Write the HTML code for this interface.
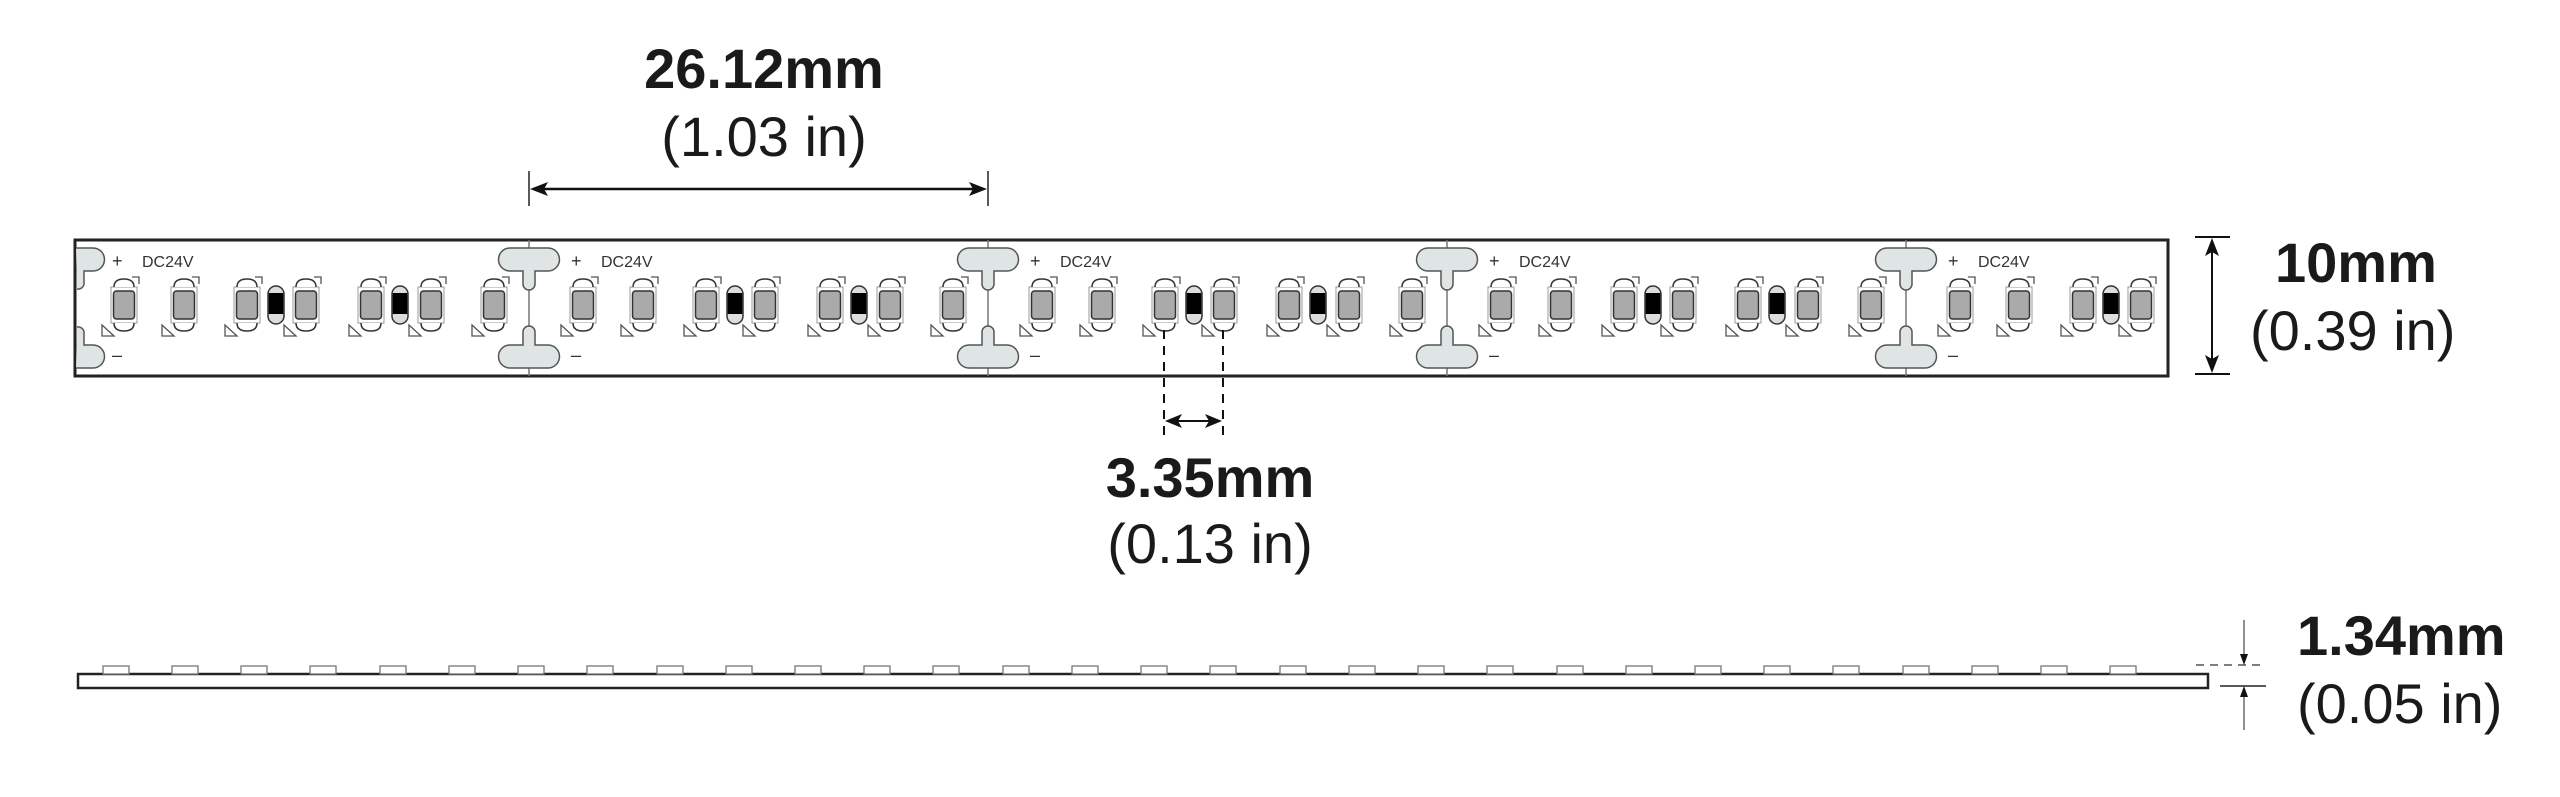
<!DOCTYPE html>
<html><head><meta charset="utf-8"><style>
html,body{margin:0;padding:0;background:#fff;}
svg{display:block}
text{font-family:"Liberation Sans",sans-serif;fill:#1a1a1a}
.b{font-weight:700;font-size:56px}
.r{font-size:56px}
.s{font-size:16px;fill:#333}
</style></head><body>
<svg width="2560" height="797" viewBox="0 0 2560 797" xmlns="http://www.w3.org/2000/svg">
<defs>
<g id="led">
<rect x="-13" y="-18" width="26" height="36" fill="#fff" stroke="#999" stroke-width="1"/>
<path d="M-10 -18 Q-10 -26 0 -26 Q10 -26 10 -18" fill="#fff" stroke="#333" stroke-width="1.5"/>
<path d="M-10 18 Q-10 26 0 26 Q10 26 10 18" fill="#fff" stroke="#333" stroke-width="1.5"/>
<rect x="-10.5" y="-14" width="21" height="28" rx="3" fill="#aaa" stroke="#333" stroke-width="1.5"/>
<path d="M8 -28 H15 V-21" fill="none" stroke="#555" stroke-width="1.3"/>
<path d="M-22 20 L-22 31 L-10 31 Z" fill="#fff" stroke="#555" stroke-width="1.3"/>
</g>
<g id="res">
<rect x="-8" y="-19" width="16" height="38" rx="8" fill="#ddd" stroke="#333" stroke-width="1.5"/>
<rect x="-7.3" y="-12" width="14.6" height="21" fill="#000"/>
</g>
<g id="pad">
<line x1="0" y1="240" x2="0" y2="376" stroke="#777" stroke-width="1.5"/>
<path d="M-19 248 H19 A11.5 11.5 0 0 1 19 271 H6 V284 A6 6 0 0 1 -6 284 V271 H-19 A11.5 11.5 0 0 1 -19 248 Z" fill="#dfe4e4" stroke="#555" stroke-width="1.5"/>
<path d="M-19 368 H19 A11.5 11.5 0 0 0 19 345 H6 V332 A6 6 0 0 0 -6 332 V345 H-19 A11.5 11.5 0 0 0 -19 368 Z" fill="#dfe4e4" stroke="#555" stroke-width="1.5"/>
</g>
<g id="seg">
<use href="#led" x="54" y="305"/><use href="#led" x="114" y="305"/><use href="#led" x="177" y="305"/>
<use href="#res" x="206" y="305"/>
<use href="#led" x="236" y="305"/><use href="#led" x="301" y="305"/>
<use href="#res" x="330" y="305"/>
<use href="#led" x="361" y="305"/><use href="#led" x="424" y="305"/>
<text x="42" y="267" class="s" style="font-size:18px">+</text>
<text x="72" y="267" class="s">DC24V</text>
<text x="42" y="361" class="s" style="font-size:18px">–</text>
</g>
</defs>

<!-- top dimension -->
<text x="764" y="88" text-anchor="middle" class="b">26.12mm</text>
<text x="764" y="156" text-anchor="middle" class="r">(1.03 in)</text>
<line x1="529" y1="171" x2="529" y2="206" stroke="#222" stroke-width="1.5"/>
<line x1="988" y1="171" x2="988" y2="206" stroke="#222" stroke-width="1.5"/>
<line x1="540" y1="189" x2="977" y2="189" stroke="#111" stroke-width="2.5"/>
<path d="M530 189 L548 182 L544 189 L548 196 Z" fill="#111"/>
<path d="M987 189 L969 182 L973 189 L969 196 Z" fill="#111"/>

<!-- strip -->
<rect x="75" y="240" width="2093" height="136" fill="#fff" stroke="#222" stroke-width="3"/>
<path d="M76 248 H93 A11.5 11.5 0 0 1 93 271 H84 V284 A6 6 0 0 1 77 289" fill="#dfe4e4" stroke="#555" stroke-width="1.5"/>
<path d="M76 368 H93 A11.5 11.5 0 0 0 93 345 H84 V332 A6 6 0 0 0 77 327" fill="#dfe4e4" stroke="#555" stroke-width="1.5"/>
<use href="#seg" x="70"/>
<use href="#pad" x="529"/><use href="#seg" x="529"/>
<use href="#pad" x="988"/><use href="#seg" x="988"/>
<use href="#pad" x="1447"/><use href="#seg" x="1447"/>
<use href="#pad" x="1906"/>
<g transform="translate(1906,0)">
<use href="#led" x="54" y="305"/><use href="#led" x="113" y="305"/><use href="#led" x="177" y="305"/>
<use href="#res" x="205" y="305"/><use href="#led" x="235" y="305"/>
<text x="42" y="267" class="s" style="font-size:18px">+</text>
<text x="72" y="267" class="s">DC24V</text>
<text x="42" y="361" class="s" style="font-size:18px">–</text>
</g>

<!-- 10mm dimension -->
<line x1="2195" y1="237" x2="2230" y2="237" stroke="#111" stroke-width="2"/>
<line x1="2195" y1="374" x2="2230" y2="374" stroke="#111" stroke-width="2"/>
<line x1="2212" y1="245" x2="2212" y2="366" stroke="#111" stroke-width="2"/>
<path d="M2212 238 L2205 256 L2212 252 L2219 256 Z" fill="#111"/>
<path d="M2212 373 L2205 355 L2212 359 L2219 355 Z" fill="#111"/>
<text x="2275" y="282" class="b">10mm</text>
<text x="2250" y="350" class="r">(0.39 in)</text>

<!-- 3.35mm dimension -->
<line x1="1164" y1="330" x2="1164" y2="442" stroke="#111" stroke-width="2" stroke-dasharray="9,7"/>
<line x1="1223" y1="330" x2="1223" y2="442" stroke="#111" stroke-width="2" stroke-dasharray="9,7"/>
<line x1="1172" y1="421" x2="1215" y2="421" stroke="#111" stroke-width="2"/>
<path d="M1165 421 L1182 414 L1178 421 L1182 428 Z" fill="#111"/>
<path d="M1222 421 L1205 414 L1209 421 L1205 428 Z" fill="#111"/>
<text x="1210" y="497" text-anchor="middle" class="b">3.35mm</text>
<text x="1210" y="563" text-anchor="middle" class="r">(0.13 in)</text>

<!-- side profile -->
<rect x="78" y="674" width="2130" height="14" fill="#fff" stroke="#222" stroke-width="2.5"/>
<g fill="#fff" stroke="#777" stroke-width="1.3">
<rect x="103" y="666" width="26" height="8"/><rect x="172" y="666" width="26" height="8"/><rect x="241" y="666" width="26" height="8"/><rect x="310" y="666" width="26" height="8"/><rect x="380" y="666" width="26" height="8"/><rect x="449" y="666" width="26" height="8"/><rect x="518" y="666" width="26" height="8"/><rect x="587" y="666" width="26" height="8"/><rect x="657" y="666" width="26" height="8"/><rect x="726" y="666" width="26" height="8"/><rect x="795" y="666" width="26" height="8"/><rect x="864" y="666" width="26" height="8"/><rect x="933" y="666" width="26" height="8"/><rect x="1003" y="666" width="26" height="8"/><rect x="1072" y="666" width="26" height="8"/><rect x="1141" y="666" width="26" height="8"/><rect x="1210" y="666" width="26" height="8"/><rect x="1280" y="666" width="26" height="8"/><rect x="1349" y="666" width="26" height="8"/><rect x="1418" y="666" width="26" height="8"/><rect x="1487" y="666" width="26" height="8"/><rect x="1557" y="666" width="26" height="8"/><rect x="1626" y="666" width="26" height="8"/><rect x="1695" y="666" width="26" height="8"/><rect x="1764" y="666" width="26" height="8"/><rect x="1833" y="666" width="26" height="8"/><rect x="1903" y="666" width="26" height="8"/><rect x="1972" y="666" width="26" height="8"/><rect x="2041" y="666" width="26" height="8"/><rect x="2110" y="666" width="26" height="8"/>
</g>
<line x1="2196" y1="665" x2="2266" y2="665" stroke="#333" stroke-width="1.3" stroke-dasharray="8,6"/>
<line x1="2220" y1="686" x2="2266" y2="686" stroke="#222" stroke-width="1.5"/>
<line x1="2244" y1="620" x2="2244" y2="660" stroke="#555" stroke-width="1.3"/>
<path d="M2244 665 L2240 654 L2248 654 Z" fill="#111"/>
<line x1="2244" y1="692" x2="2244" y2="730" stroke="#555" stroke-width="1.3"/>
<path d="M2244 686 L2240 697 L2248 697 Z" fill="#111"/>
<text x="2297" y="655" class="b">1.34mm</text>
<text x="2297" y="723" class="r">(0.05 in)</text>
</svg>
</body></html>
